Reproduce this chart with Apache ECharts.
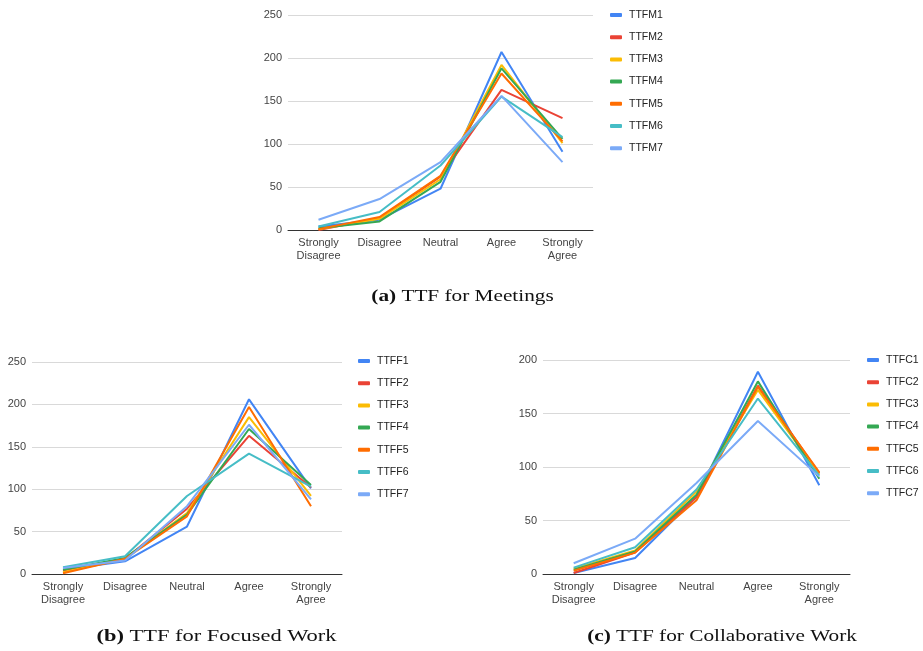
<!DOCTYPE html>
<html>
<head>
<meta charset="utf-8">
<script src="https://cdn.jsdelivr.net/npm/echarts@6/dist/echarts.min.js"></script>
<style>
  html, body { margin: 0; padding: 0; background: #fff; }
  #chart { width: 923px; height: 651px; }
</style>
</head>
<body>
<div id="chart"></div>
<script>
// ---- data ----
const categories = ['Strongly\nDisagree', 'Disagree', 'Neutral', 'Agree', 'Strongly\nAgree'];

// (a) TTF for Meetings
const namesA = ['TTFM1', 'TTFM2', 'TTFM3', 'TTFM4', 'TTFM5', 'TTFM6', 'TTFM7'];
const TTFM1 = [4, 12, 48, 207, 91];
const TTFM2 = [0, 14, 62, 163, 130];
const TTFM3 = [1, 13, 59, 192, 101];
const TTFM4 = [2, 10, 56, 188, 106];
const TTFM5 = [1, 15, 63, 182, 103];
const TTFM6 = [4, 21, 75, 155, 108];
const TTFM7 = [12, 36, 79, 156, 79];

// (b) TTF for Focused Work
const namesB = ['TTFF1', 'TTFF2', 'TTFF3', 'TTFF4', 'TTFF5', 'TTFF6', 'TTFF7'];
const TTFF1 = [5, 15, 56, 206, 101];
const TTFF2 = [4, 18, 77, 163, 102];
const TTFF3 = [2, 18, 72, 185, 92];
const TTFF4 = [5, 19, 70, 171, 105];
const TTFF5 = [1, 18, 68, 197, 80];
const TTFF6 = [8, 21, 92, 142, 103];
const TTFF7 = [7, 16, 80, 176, 88];

// (c) TTF for Collaborative Work
const namesC = ['TTFC1', 'TTFC2', 'TTFC3', 'TTFC4', 'TTFC5', 'TTFC6', 'TTFC7'];
const TTFC1 = [1, 15, 72, 189, 83];
const TTFC2 = [1, 20, 72, 176, 94];
const TTFC3 = [5, 22, 77, 172, 93];
const TTFC4 = [4, 21, 74, 180, 89];
const TTFC5 = [3, 20, 69, 175, 95];
const TTFC6 = [6, 25, 79, 164, 92];
const TTFC7 = [10, 33, 85, 143, 91];

// y-axis ticks
const yMaxA = 250, yMaxB = 250, yMaxC = 200, yStep = 50;

const captionA = ['(a)', ' TTF for Meetings'];
const captionB = ['(b)', ' TTF for Focused Work'];
const captionC = ['(c)', ' TTF for Collaborative Work'];

// ---- styling ----
const colors = ['#4285F4', '#EA4335', '#FBBC04', '#34A853', '#FF6D01', '#46BDC6', '#7BAAF7'];
const sans = 'Liberation Sans, Arial, sans-serif';

const dataA = [TTFM1, TTFM2, TTFM3, TTFM4, TTFM5, TTFM6, TTFM7];
const dataB = [TTFF1, TTFF2, TTFF3, TTFF4, TTFF5, TTFF6, TTFF7];
const dataC = [TTFC1, TTFC2, TTFC3, TTFC4, TTFC5, TTFC6, TTFC7];

function xAx(gi) {
  return {
    type: 'category', gridIndex: gi, data: categories, boundaryGap: true,
    axisTick: { show: false },
    axisLine: { show: true, lineStyle: { color: '#333', width: 1 } },
    axisLabel: { color: '#444', fontSize: 11, fontFamily: sans, margin: 6, lineHeight: 13.5, interval: 0 },
    splitLine: { show: false }
  };
}
function yAx(gi, max) {
  return {
    type: 'value', gridIndex: gi, min: 0, max: max, interval: yStep,
    axisLine: { show: false }, axisTick: { show: false },
    axisLabel: { color: '#444', fontSize: 11, fontFamily: sans, margin: 6 },
    splitLine: { show: true, lineStyle: { color: '#d9d9d9', width: 1 } }
  };
}
function legend(names, left, top) {
  return {
    orient: 'vertical', left: left, top: top, data: names, padding: 0,
    icon: 'roundRect', itemWidth: 12, itemHeight: 4, itemGap: 8.2,
    textStyle: { color: '#222', fontSize: 10.5, fontFamily: sans, lineHeight: 14, padding: [0, 0, 0, 2] }
  };
}
const series = [];
function addSeries(names, data, gi) {
  names.forEach((n, i) => {
    series.push({
      name: n, type: 'line', xAxisIndex: gi, yAxisIndex: gi,
      data: data[i], showSymbol: false, symbol: 'none',
      lineStyle: { width: 2, color: colors[i] }, itemStyle: { color: colors[i] },
      emphasis: { disabled: true }, animation: false
    });
  });
}
addSeries(namesA, dataA, 0);
addSeries(namesB, dataB, 1);
addSeries(namesC, dataC, 2);

function caption(parts, x, y, sx) {
  return {
    type: 'text', x: x, y: y, scaleX: sx, scaleY: 1,
    style: {
      text: '{b|' + parts[0] + '}' + parts[1],
      font: '17px "Liberation Serif", "Times New Roman", serif',
      fill: '#111', align: 'center', verticalAlign: 'middle',
      rich: { b: { fontWeight: 'bold', fontSize: 17, fontFamily: 'Liberation Serif', fill: '#111' } }
    }
  };
}

const chart = echarts.init(document.getElementById('chart'), null, { renderer: 'canvas' });
chart.setOption({
  animation: false,
  color: colors,
  grid: [
    { left: 288, top: 15, width: 305, height: 215 },
    { left: 32, top: 362, width: 310, height: 212 },
    { left: 543, top: 360, width: 307, height: 214 }
  ],
  xAxis: [xAx(0), xAx(1), xAx(2)],
  yAxis: [yAx(0, yMaxA), yAx(1, yMaxB), yAx(2, yMaxC)],
  legend: [legend(namesA, 610, 8), legend(namesB, 358, 354), legend(namesC, 867, 353)],
  series: series,
  graphic: [
    caption(captionA, 462.5, 297, 1.25),
    caption(captionB, 216.5, 637, 1.32),
    caption(captionC, 722, 637, 1.25)
  ]
});
</script>
</body>
</html>
